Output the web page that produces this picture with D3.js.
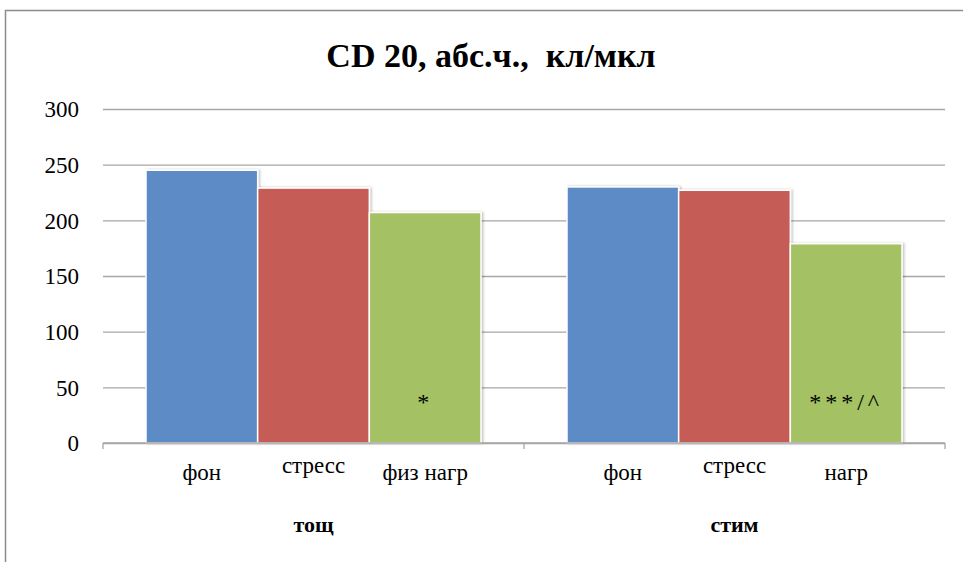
<!DOCTYPE html>
<html>
<head>
<meta charset="utf-8">
<script src="https://cdn.jsdelivr.net/npm/d3@7"></script>
</head>
<body style="margin:0; background:#fff">
<svg id="chart" width="963" height="562" font-family="Times New Roman, Liberation Serif, serif"></svg>
<script>
const groups = ["тощ", "стим"];
const labels = [["фон", "стресс", "физ нагр"], ["фон", "стресс", "нагр"]];
const values = [[245, 229, 207], [230, 227, 179]];
const marks = [["", "", "*"], ["", "", "***/^"]];
const yTicks = [0, 50, 100, 150, 200, 250, 300];
const colors = ["#5b8bc5", "#c55b57", "#a4c164"];

const font = d => `"Times New Roman", "Liberation Serif", serif`;
const margin = { top: 109, right: 18, bottom: 119, left: 103 };
const width = 963 - margin.left - margin.right;
const height = 562 - margin.top - margin.bottom;

const svg = d3.select("#chart");

// frame of the chart area (runs off the picture on the right and bottom)
svg.append("path")
    .attr("d", "M5.5,570 L5.5,10.5 L970,10.5")
    .attr("fill", "none")
    .attr("stroke", "#8c8c8c")
    .attr("stroke-width", 1.5);

const defs = svg.append("defs");
const shadow = defs.append("filter").attr("id", "shadow")
    .attr("x", "-10%").attr("y", "-10%").attr("width", "130%").attr("height", "130%");
shadow.append("feDropShadow")
    .attr("dx", 1.5).attr("dy", 0).attr("stdDeviation", 1.2)
    .attr("flood-color", "#000").attr("flood-opacity", 0.25);

svg.append("text")
    .attr("x", 491)
    .attr("y", 67)
    .attr("text-anchor", "middle")
    .style("font-family", font)
    .style("font-size", "34px")
    .style("font-weight", "bold")
    .style("white-space", "pre")
    .text("CD 20, абс.ч.,  кл/мкл");

const g = svg.append("g").attr("transform", `translate(${margin.left},${margin.top})`);

const x0 = d3.scaleBand().domain(groups).range([0, width]);
const x1 = d3.scaleBand().domain([0, 1, 2]).range([43, x0.bandwidth() - 43]);
const y = d3.scaleLinear().domain([0, 300]).range([height, 0]);

// gridlines + y labels
g.append("g")
    .call(d3.axisLeft(y).tickValues(yTicks).tickSize(-width).tickPadding(24))
    .attr("font-family", null)
    .attr("font-size", null)
    .call(a => a.select(".domain").remove())
    .call(a => a.selectAll(".tick line").attr("stroke", "#a6a6a6").attr("stroke-width", 1.3))
    .call(a => a.selectAll(".tick text")
        .style("font-family", font)
        .style("font-size", "23px")
        .attr("dy", "0.34em"));

// bars
const grp = g.selectAll(".grp")
    .data(groups)
    .join("g")
    .attr("class", "grp")
    .attr("transform", d => `translate(${x0(d)},0)`);

grp.selectAll("rect")
    .data((d, i) => values[i].map((v, j) => ({ v, j })))
    .join("rect")
    .attr("x", d => x1(d.j))
    .attr("y", d => y(d.v))
    .attr("width", x1.bandwidth())
    .attr("height", d => height - y(d.v))
    .attr("fill", d => colors[d.j])
    .attr("stroke", "#fff")
    .attr("stroke-width", 1.5)
    .attr("filter", "url(#shadow)");

// significance marks
grp.selectAll(".mark")
    .data((d, i) => marks[i].map((m, j) => ({ m, j })))
    .join("text")
    .attr("class", "mark")
    .attr("x", d => x1(d.j) + x1.bandwidth() / 2)
    .attr("y", height - 33)
    .attr("text-anchor", "middle")
    .style("font-family", font)
    .style("font-size", "24px")
    .style("letter-spacing", "4px")
    .text(d => d.m);

// x axis
const xAxis = g.append("g").attr("transform", `translate(0,${height})`);
xAxis.append("line")
    .attr("x1", 0).attr("x2", width)
    .attr("stroke", "#a6a6a6").attr("stroke-width", 1.3);
xAxis.selectAll(".bnd")
    .data([0, x0("стим"), width])
    .join("line")
    .attr("class", "bnd")
    .attr("x1", d => d).attr("x2", d => d)
    .attr("y1", 0).attr("y2", 6)
    .attr("stroke", "#a6a6a6").attr("stroke-width", 1.3);

grp.selectAll(".lbl")
    .data((d, i) => labels[i].map((t, j) => ({ t, j })))
    .join("text")
    .attr("class", "lbl")
    .attr("x", d => x1(d.j) + x1.bandwidth() / 2)
    .attr("y", d => d.t === "стресс" ? height + 30 : height + 37)
    .attr("text-anchor", "middle")
    .style("font-family", font)
    .style("font-size", "23px")
    .text(d => d.t);

grp.append("text")
    .attr("x", x0.bandwidth() / 2)
    .attr("y", height + 89)
    .attr("text-anchor", "middle")
    .style("font-family", font)
    .style("font-size", "22px")
    .style("font-weight", "bold")
    .text(d => d);
</script>
</body>
</html>
